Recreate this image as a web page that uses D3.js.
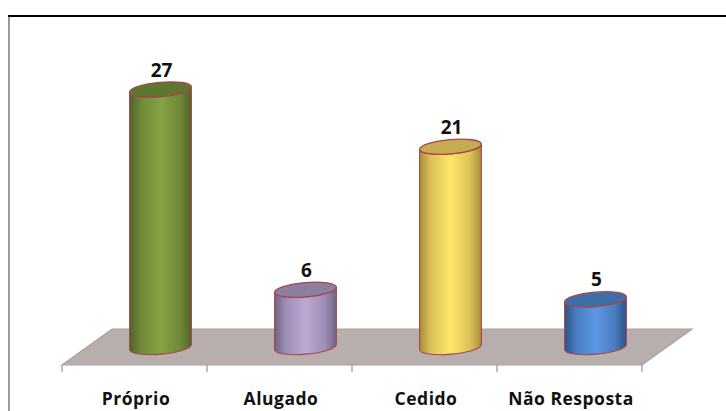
<!DOCTYPE html>
<html><head><meta charset="utf-8">
<script src="https://cdn.jsdelivr.net/npm/d3@7"></script>
<style>html,body{margin:0;padding:0;background:#fff}svg{display:block}</style>
</head><body><div id="c"></div>
<script>
const categories = ["Próprio","Alugado","Cedido","Não Resposta"];
const values = [27,6,21,5];
const edgeColors = ["#4f6329","#6f6485","#a88c3a","#2c5386"];
const midColors = ["#85a343","#bca9d4","#ffe56c","#5b98e3"];
const topColors = ["#5f7631","#8a7f9f","#c6ab52","#3f6ea6"];

const W=726,H=411;
const svg=d3.select("#c").append("svg").attr("width",W).attr("height",H);
const font="'Open Sans','Noto Sans',sans-serif";
const x=d3.scaleBand().domain(categories).range([62,642]).padding(0);
const y=d3.scaleLinear().domain([0,27]).range([347,89.5]);
const depth={dx:50,dy:-36}, floorY=365, off=26, rx=31, ry=7.2, deg=-5;
const ca=Math.cos(deg*Math.PI/180), sa=Math.sin(deg*Math.PI/180);

// frame
svg.append("rect").attr("x",8).attr("y",16).attr("width",2).attr("height",H-16).attr("fill","#9b9b9b");
svg.append("rect").attr("x",8).attr("y",15).attr("width",W-8).attr("height",2).attr("fill","#000");

// floor
const [x0,x1]=x.range();
svg.append("path")
  .attr("d",d3.line()([[x0,floorY],[x0+depth.dx,floorY+depth.dy],[x1+depth.dx,floorY+depth.dy],[x1,floorY]])+"Z")
  .attr("fill","#b8aeae").attr("stroke","#a3a3a3").attr("stroke-width",1.2);

// axis
const axis=d3.axisBottom(x).tickSize(0).tickPadding(0);
const ax=svg.append("g").attr("transform",`translate(0,${floorY})`).call(axis);
ax.select(".domain").remove();
ax.selectAll("text").attr("x",1.5).attr("y",40).attr("dy",0).attr("font-family",font).attr("font-size",17.5).attr("font-weight",700).attr("fill","#111").attr("text-anchor","middle").attr("letter-spacing",0.5);
const ticks=[...x.domain().map(d=>x(d)),x1];
svg.append("g").selectAll("line").data(ticks).join("line")
  .attr("x1",d=>d).attr("x2",d=>d).attr("y1",floorY).attr("y2",floorY+7)
  .attr("stroke","#9c9c9c").attr("stroke-width",1.3);

// gradients
const defs=svg.append("defs");
categories.forEach((c,i)=>{
  const g=defs.append("linearGradient").attr("id","g"+i);
  [[0,edgeColors[i]],[0.18,d3.interpolateRgb(edgeColors[i],midColors[i])(0.6)],[0.5,midColors[i]],[0.82,d3.interpolateRgb(edgeColors[i],midColors[i])(0.6)],[1,edgeColors[i]]]
    .forEach(([o,col])=>g.append("stop").attr("offset",o).attr("stop-color",col));
});

// cylinders
const data=categories.map((c,i)=>({c,v:values[i],i}));
const bars=svg.append("g").selectAll("g").data(data).join("g");
const cx=d=>x(d.c)+x.bandwidth()/2+off;
bars.append("path")
  .attr("d",d=>{
    const X=cx(d),T=y(d.v),B=y(0),ex=rx*ca,ey=rx*sa;
    return `M${X-ex},${T-ey}L${X-ex},${B-ey}A${rx},${ry} ${deg} 0 0 ${X+ex},${B+ey}L${X+ex},${T+ey}A${rx},${ry} ${deg} 0 1 ${X-ex},${T-ey}Z`;
  })
  .attr("fill",d=>`url(#g${d.i})`).attr("stroke","#a5474a").attr("stroke-width",1.1);
bars.append("ellipse")
  .attr("rx",rx).attr("ry",ry)
  .attr("transform",d=>`translate(${cx(d)},${y(d.v)}) rotate(${deg})`)
  .attr("fill",d=>topColors[d.i]).attr("stroke","#a5474a").attr("stroke-width",1.3);
bars.append("text").text(d=>d.v)
  .attr("x",d=>cx(d)+1).attr("y",d=>y(d.v)-13)
  .attr("text-anchor","middle").attr("font-family",font).attr("font-size",19).attr("font-weight",700).attr("fill","#111");
</script></body></html>
